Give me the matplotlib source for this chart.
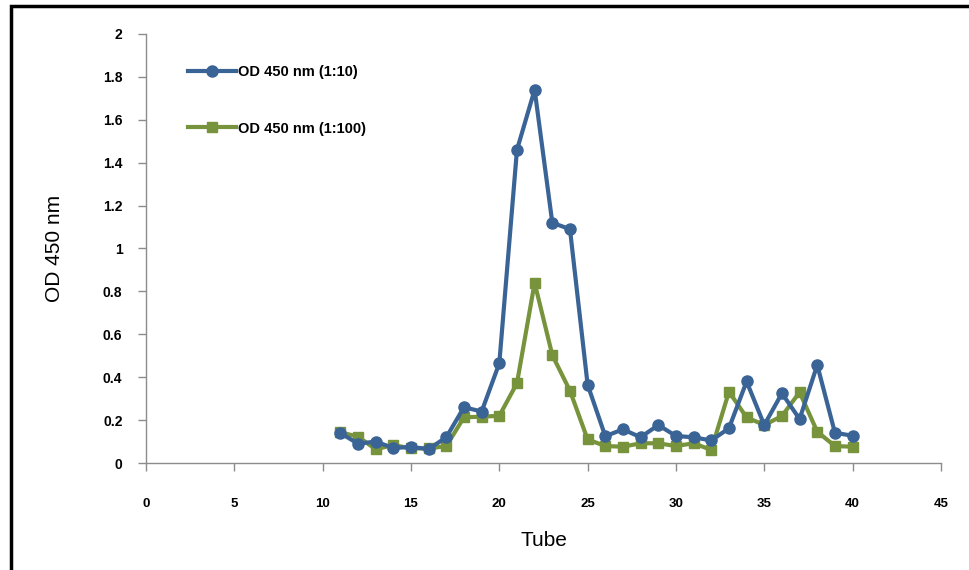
import numpy as np
import matplotlib
matplotlib.use('Agg')
import matplotlib.pyplot as plt
from matplotlib.patches import Rectangle

plt.rcParams['font.family'] = ['Liberation Sans', 'DejaVu Sans']

# tube numbers and OD readings
tubes = list(range(11, 41))
od_1_10 = [0.14, 0.09, 0.10, 0.07, 0.075, 0.065, 0.12, 0.26, 0.24, 0.465,
           1.46, 1.74, 1.12, 1.09, 0.365, 0.125, 0.157, 0.12, 0.177, 0.126,
           0.12, 0.105, 0.162, 0.38, 0.177, 0.325, 0.205, 0.457, 0.141, 0.127]
od_1_100 = [0.143, 0.123, 0.064, 0.084, 0.068, 0.068, 0.079, 0.213, 0.216, 0.22,
            0.372, 0.84, 0.503, 0.337, 0.11, 0.079, 0.076, 0.092, 0.092, 0.079,
            0.092, 0.061, 0.332, 0.213, 0.177, 0.219, 0.33, 0.146, 0.079, 0.076]
labels = ['OD 450 nm (1:10)', 'OD 450 nm (1:100)']

BLUE = '#3A6396'
GREEN = '#77933C'
GRID = '#8C8C8C'

fig = plt.figure(figsize=(9.69, 5.70), dpi=100)
ax = fig.add_axes([0.1507, 0.1877, 0.8203, 0.7527])

ax.plot(tubes, od_1_10, color=BLUE, lw=3.0, marker='o', ms=8,
        label=labels[0], zorder=3)
ax.plot(tubes, od_1_100, color=GREEN, lw=3.0, marker='s', ms=7.5,
        label=labels[1], zorder=2)

ax.set_xlim(0, 45)
ax.set_ylim(0, 2)
ax.set_xticks(np.arange(0, 46, 5))
ax.set_yticks(np.arange(0, 2.01, 0.2))
ax.set_yticklabels(['0', '0.2', '0.4', '0.6', '0.8', '1', '1.2', '1.4', '1.6', '1.8', '2'])

for side in ['top', 'right']:
    ax.spines[side].set_visible(False)
for side in ['left', 'bottom']:
    ax.spines[side].set_color(GRID)
    ax.spines[side].set_linewidth(1.0)
ax.tick_params(axis='both', color=GRID, length=6, width=1.0, direction='out')
ax.tick_params(axis='y', pad=11, labelsize=10)
ax.tick_params(axis='x', pad=19, labelsize=9.5)
for t in ax.get_xticklabels() + ax.get_yticklabels():
    t.set_fontweight('bold')

ax.set_xlabel('Tube', fontsize=15, labelpad=15)
ax.set_ylabel('OD 450 nm', fontsize=15, labelpad=28)

leg = ax.legend(loc='upper left', bbox_to_anchor=(0.053, 0.927), frameon=False,
                borderpad=0, borderaxespad=0, handlelength=3.3, handletextpad=0.1,
                labelspacing=2.9, prop={'size': 10.5, 'weight': 'bold'})

# outer frame like the pasted chart area
fig.patches.append(Rectangle((11 / 969, -0.1), 2.0, 1 - 6 / 570 + 0.1,
                             transform=fig.transFigure, fill=False,
                             edgecolor='black', lw=2.5))

fig.savefig('out.png', dpi=100)
